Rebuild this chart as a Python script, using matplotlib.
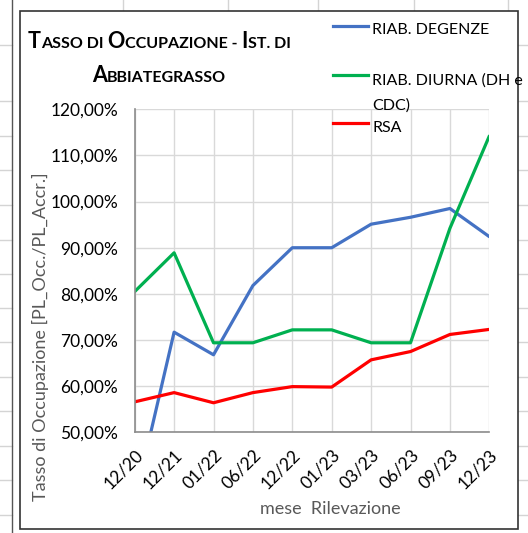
import matplotlib
matplotlib.use("Agg")
import matplotlib.pyplot as plt
from matplotlib.lines import Line2D
from matplotlib.ticker import FuncFormatter, MultipleLocator

plt.rcParams['font.family'] = ['Lato', 'DejaVu Sans']

# dati
mesi = ["12/20", "12/21", "01/22", "06/22", "12/22", "01/23", "03/23", "06/23", "09/23", "12/23"]
riab_degenze = [0.35, 0.717, 0.668, 0.818, 0.90, 0.90, 0.951, 0.966, 0.985, 0.924]
riab_diurna = [0.805, 0.889, 0.694, 0.694, 0.722, 0.722, 0.694, 0.694, 0.942, 1.142]
rsa = [0.566, 0.586, 0.564, 0.586, 0.599, 0.598, 0.657, 0.675, 0.712, 0.723]

W, H = 528, 533
fig = plt.figure(figsize=(W / 100, H / 100), dpi=100)

def fx(px):
    return px / W

def fy(py):
    return 1 - py / H

# griglia del foglio di calcolo sullo sfondo
cell_gray = "#D4D4D4"
for y in [45, 101, 136, 170, 205, 240, 274, 308, 342, 377, 411, 446, 480, 515]:
    fig.add_artist(Line2D([0, fx(12)], [fy(y), fy(y)], color=cell_gray, lw=1, zorder=-20))
    fig.add_artist(Line2D([fx(518), 1], [fy(y), fy(y)], color=cell_gray, lw=1, zorder=-20))
for x in [123, 228, 318, 414, 508]:
    fig.add_artist(Line2D([fx(x), fx(x)], [fy(0), fy(11)], color=cell_gray, lw=1, zorder=-20))
fig.add_artist(Line2D([fx(12), fx(12)], [0, 1], color="#555555", lw=1, zorder=-20))

# riquadro del grafico
box = plt.Rectangle((fx(20), fy(529)), fx(518) - fx(20), fy(11) - fy(529),
                    transform=fig.transFigure, facecolor="white",
                    edgecolor="#333333", lw=1.2, zorder=-10)
fig.add_artist(box)

ax = fig.add_axes([fx(134.7), fy(432.3), fx(489.3) - fx(134.7), fy(109.3) - fy(432.3)])
ax.patch.set_alpha(0)
x = list(range(len(mesi)))
ax.plot(x, riab_degenze, color="#4472C4", lw=2.3, solid_capstyle="round")
ax.plot(x, riab_diurna, color="#00B050", lw=2.3, solid_capstyle="round")
ax.plot(x, rsa, color="#FF0000", lw=2.3, solid_capstyle="round")

ax.set_xlim(0, len(mesi) - 1)
ax.set_ylim(0.5, 1.2)
ax.yaxis.set_major_locator(MultipleLocator(0.1))
ax.yaxis.set_major_formatter(FuncFormatter(lambda v, p: f"{v * 100:.2f}%".replace(".", ",")))
ax.set_xticks(x)
ax.set_xticklabels(mesi, rotation=45, ha="right", rotation_mode="anchor")
ax.tick_params(axis="both", length=0, labelsize=12.5, colors="black")
ax.tick_params(axis="x", pad=10)
ax.tick_params(axis="y", pad=12)
ax.grid(True, color="#D9D9D9", lw=1)
ax.set_axisbelow(True)
for s in ["top", "right"]:
    ax.spines[s].set_visible(False)
for s in ["left", "bottom"]:
    ax.spines[s].set_color("#8C8C8C")
    ax.spines[s].set_linewidth(1.2)

fig.text(fx(330), fy(509), "mese  Rilevazione", color="#595959", fontsize=13,
         ha="center", va="center")
fig.text(fx(40), fy(337), "Tasso di Occupazione [PL_Occ./PL_Accr.]", color="#595959",
         fontsize=13, rotation=90, ha="center", va="center")

# titolo in maiuscoletto
def small_caps(pieces, x0, y0):
    fig.canvas.draw()
    r = fig.canvas.get_renderer()
    xx = x0
    for txt, big in pieces:
        t = fig.text(xx, y0, txt, fontsize=15.5 if big else 11.5, fontweight="bold",
                     ha="left", va="baseline")
        bb = t.get_window_extent(renderer=r)
        xx += bb.width / W

small_caps([("T", 1), ("ASSO DI ", 0), ("O", 1), ("CCUPAZIONE - ", 0), ("I", 1), ("ST. DI", 0)],
           fx(28), fy(48))
small_caps([("A", 1), ("BBIATEGRASSO", 0)], fx(92), fy(82))

# legenda
leg_colori = ["#4472C4", "#00B050", "#FF0000"]
leg_y = [26, 75, 123]
leg_testi = [["RIAB. DEGENZE"], ["RIAB. DIURNA (DH e", "CDC)"], ["RSA"]]
leg_base = [[34], [85, 110], [132]]
for col, y, righe, basi in zip(leg_colori, leg_y, leg_testi, leg_base):
    fig.add_artist(Line2D([fx(333), fx(368)], [fy(y), fy(y)], color=col, lw=2.3))
    for riga, b in zip(righe, basi):
        fig.text(fx(372), fy(b), riga, fontsize=11.5, ha="left", va="baseline")

fig.savefig("out.png", dpi=100)
